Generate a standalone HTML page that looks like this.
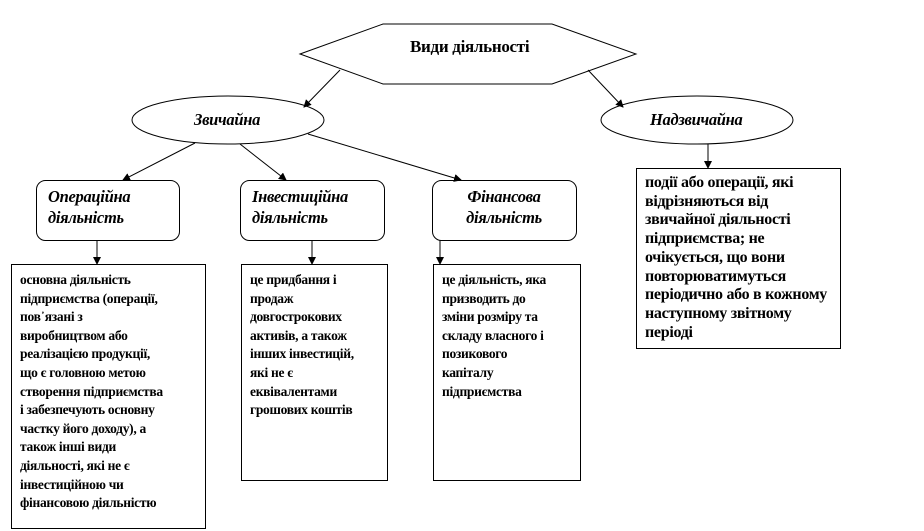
<!DOCTYPE html>
<html><head><meta charset="utf-8">
<style>
html,body{margin:0;padding:0;background:#fff;}
body{width:924px;height:531px;position:relative;overflow:hidden;font-family:"Liberation Serif",serif;}
svg{position:absolute;left:0;top:0;}
.t{position:absolute;font-weight:bold;font-size:16.5px;color:#000;letter-spacing:-0.3px;white-space:nowrap;}
.tb{position:absolute;font-weight:bold;font-size:13.5px;line-height:18.6px;letter-spacing:-0.3px;white-space:nowrap;}
</style></head><body>
<svg width="924" height="531" viewBox="0 0 924 531">
<defs><marker id="a" markerWidth="8" markerHeight="8" refX="7" refY="4" orient="auto" markerUnits="userSpaceOnUse"><path d="M0,0 L8,4 L0,8 z" fill="#000"/></marker></defs>
<g fill="#fff" stroke="#000" stroke-width="1">
<polygon points="300,54 383,24 552,24 636,54 552,84 383,84"/>
<ellipse cx="228" cy="120" rx="96" ry="24"/>
<ellipse cx="697" cy="120" rx="96" ry="24"/>
<rect x="36.5" y="180.5" width="143" height="60" rx="9"/>
<rect x="240.5" y="180.5" width="144" height="60" rx="9"/>
<rect x="432.5" y="180.5" width="144" height="60" rx="9"/>
<rect x="11.5" y="264.5" width="194" height="264"/>
<rect x="241.5" y="264.5" width="146" height="216"/>
<rect x="433.5" y="264.5" width="147" height="216"/>
<rect x="636.5" y="168.5" width="204" height="180"/>
</g>
<g stroke="#000" stroke-width="1" marker-end="url(#a)">
<line x1="340" y1="70" x2="304" y2="107"/>
<line x1="588" y1="70" x2="623" y2="107"/>
<line x1="195" y1="143" x2="123" y2="180"/>
<line x1="240" y1="144" x2="286" y2="180"/>
<line x1="308" y1="134" x2="461" y2="180"/>
<line x1="708" y1="144" x2="708" y2="168"/>
<line x1="97" y1="240" x2="97" y2="264"/>
<line x1="312" y1="240" x2="312" y2="264"/>
<line x1="440" y1="240" x2="440" y2="264"/>
</g>
</svg>
<div class="t" style="left:410px;top:37px;font-size:17px;">Види діяльності</div>
<div class="t" style="left:194px;top:110px;font-style:italic;">Звичайна</div>
<div class="t" style="left:650px;top:110px;font-style:italic;">Надзвичайна</div>
<div class="t" style="left:48px;top:186px;font-style:italic;line-height:21px;">Операційна<br>діяльність</div>
<div class="t" style="left:252px;top:186px;font-style:italic;line-height:21px;">Інвестиційна<br>діяльність</div>
<div class="t" style="left:432px;width:144px;top:186px;font-style:italic;line-height:21px;text-align:center;">Фінансова<br>діяльність</div>
<div class="tb" style="left:20px;top:271px;">основна діяльність<br>підприємства (операції,<br>пов᾽язані з<br>виробництвом або<br>реалізацією продукції,<br>що є головною метою<br>створення підприємства<br>і забезпечують основну<br>частку його доходу), а<br>також інші види<br>діяльності, які не є<br>інвестиційною чи<br>фінансовою діяльністю</div>
<div class="tb" style="left:250px;top:271px;">це придбання і<br>продаж<br>довгострокових<br>активів, а також<br>інших інвестицій,<br>які не є<br>еквівалентами<br>грошових коштів</div>
<div class="tb" style="left:442px;top:271px;">це діяльність, яка<br>призводить до<br>зміни розміру та<br>складу власного і<br>позикового<br>капіталу<br>підприємства</div>
<div class="tb" style="left:645px;top:174px;font-size:16px;line-height:18.7px;">події або операції, які<br>відрізняються від<br>звичайної діяльності<br>підприємства; не<br>очікується, що вони<br>повторюватимуться<br>періодично або в кожному<br>наступному звітному<br>періоді</div>
</body></html>
